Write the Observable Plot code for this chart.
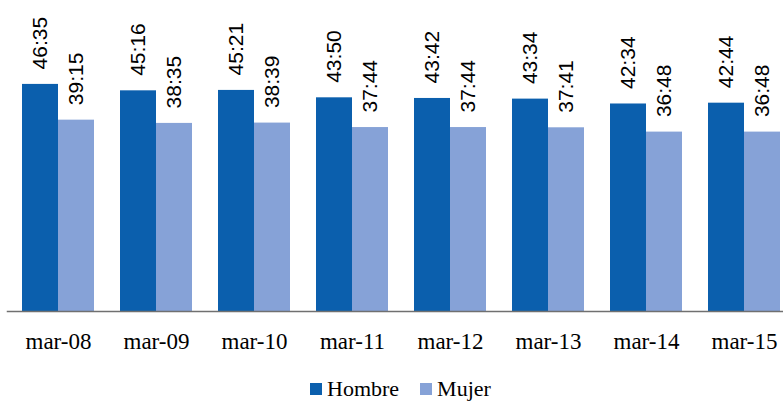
<!DOCTYPE html>
<html>
<head>
<meta charset="utf-8">
<script src="https://cdn.jsdelivr.net/npm/d3@7"></script>
<script src="https://cdn.jsdelivr.net/npm/@observablehq/plot@0.6"></script>
<style>
  html, body { margin: 0; padding: 0; background: #fff; }
  #wrap { width: 783px; overflow: hidden; }
  #chart svg { max-width: none !important; width: 795px !important; height: 360px !important; display: block; }
  #legend { height: 41px; box-sizing: border-box; padding-top: 18px; padding-left: 310px;
            font-family: "Liberation Serif", "Times New Roman", serif; font-size: 22px; line-height: 22px; color: #000; white-space: nowrap; }
  #legend .item { display: inline-block; }
  #legend .item + .item { margin-left: 21px; }
  #legend .sw { display: inline-block; width: 12px; height: 12px; margin-right: 5px; vertical-align: 1px; }
</style>
</head>
<body>
<div id="wrap"><div id="chart"></div></div>
<div id="legend"></div>
<script>
const categories = ["mar-08", "mar-09", "mar-10", "mar-11", "mar-12", "mar-13", "mar-14", "mar-15"];
const series = ["Hombre", "Mujer"];
const hombreLabels = ["46:35", "45:16", "45:21", "43:50", "43:42", "43:34", "42:34", "42:44"];
const mujerLabels  = ["39:15", "38:35", "38:39", "37:44", "37:44", "37:41", "36:48", "36:48"];
const colors = ["#0b5fad", "#86a2d7"];

const toHours = s => { const [h, m] = s.split(":").map(Number); return h + m / 60; };

const hombre = categories.map((c, i) => ({cat: c, serie: "Hombre", label: hombreLabels[i], value: toHours(hombreLabels[i])}));
const mujer  = categories.map((c, i) => ({cat: c, serie: "Mujer",  label: mujerLabels[i],  value: toHours(mujerLabels[i])}));

const labelFont = {fontFamily: "Liberation Sans", fontSize: 21, fill: "#000"};

const chart = Plot.plot({
  width: 795,
  height: 360,
  marginLeft: 6.75,
  marginRight: 0,
  marginTop: 18.5,
  marginBottom: 49,
  style: {fontFamily: "Liberation Serif", fontSize: "23px", color: "#000", background: "#fff"},
  x: {domain: categories, paddingInner: 0.269, paddingOuter: 0.1345, label: null},
  y: {domain: [0, 60], axis: null},
  color: {domain: series, range: colors},
  marks: [
    Plot.barY(hombre, {x: "cat", y: "value", fill: "serie", insetRight: 36}),
    Plot.barY(mujer,  {x: "cat", y: "value", fill: "serie", insetLeft: 36}),
    Plot.ruleY([0], {stroke: "#707070", strokeWidth: 1.5}),
    Plot.text(hombre, {x: "cat", y: "value", text: "label", rotate: -90, textAnchor: "start", dx: -18, dy: -15, ...labelFont}),
    Plot.text(mujer,  {x: "cat", y: "value", text: "label", rotate: -90, textAnchor: "start", dx: 18, dy: -15, ...labelFont}),
    Plot.axisX({tickSize: 0, tickPadding: 21, label: null, fontSize: 23, fontFamily: "Liberation Serif", fill: "#000"})
  ]
});
document.getElementById("chart").appendChild(chart);

const colorScale = chart.scale("color");
const legend = document.getElementById("legend");
colorScale.domain.forEach((s, i) => {
  const item = document.createElement("span");
  item.className = "item";
  const sw = document.createElement("span");
  sw.className = "sw";
  sw.style.background = colorScale.range[i];
  item.appendChild(sw);
  item.appendChild(document.createTextNode(s));
  legend.appendChild(item);
});
</script>
</body>
</html>
